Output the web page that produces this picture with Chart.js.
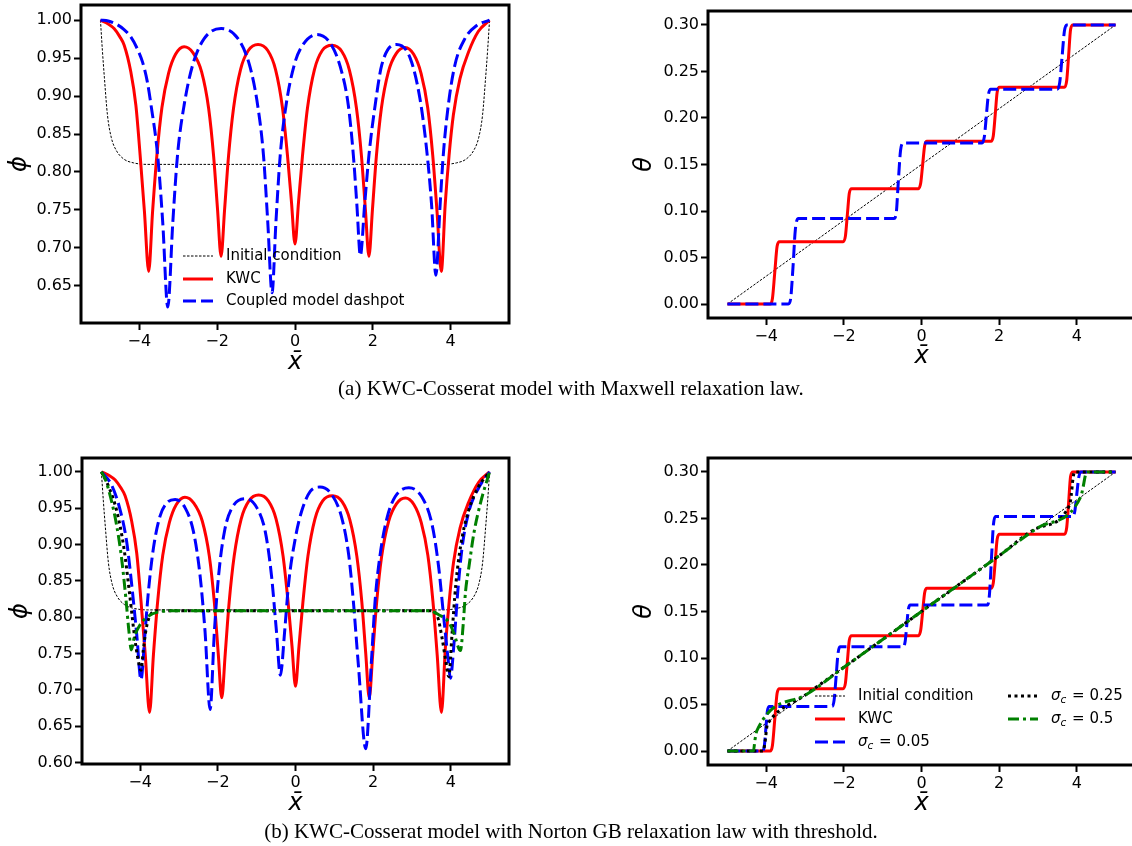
<!DOCTYPE html>
<html><head><meta charset="utf-8">
<script src="https://cdn.jsdelivr.net/npm/chart.js@4.4.1/dist/chart.umd.min.js"></script>
<style>
html,body{margin:0;padding:0;background:#fff;overflow:hidden;width:1132px;height:846px;position:relative;}
canvas{position:absolute;}
.cap{position:absolute;left:0;width:1142px;text-align:center;font-family:'Liberation Serif','Times New Roman',serif;font-size:21px;line-height:22px;color:#000;}
</style></head><body>
<canvas id="cA" width="540" height="380" style="left:0;top:0"></canvas>
<canvas id="cB" width="520" height="380" style="left:620px;top:0"></canvas>
<canvas id="cC" width="540" height="380" style="left:0;top:440px"></canvas>
<canvas id="cD" width="520" height="380" style="left:620px;top:440px"></canvas>
<div class="cap" style="top:377px">(a) KWC-Cosserat model with Maxwell relaxation law.</div>
<div class="cap" style="top:820px">(b) KWC-Cosserat model with Norton GB relaxation law with threshold.</div>
<script>
// ---------- tick labels ----------
const xTicks = [-4, -2, 0, 2, 4];
const phiTicksA = [0.65, 0.70, 0.75, 0.80, 0.85, 0.90, 0.95, 1.00];
const phiTicksC = [0.60, 0.65, 0.70, 0.75, 0.80, 0.85, 0.90, 0.95, 1.00];
const thetaTicks = [0.00, 0.05, 0.10, 0.15, 0.20, 0.25, 0.30];

// ---------- phi: initial condition ----------
const initPhiX = [-5.00,-4.95,-4.90,-4.82,-4.72,-4.60,-4.40,-4.15,-3.80,3.80,4.15,4.40,4.60,4.72,4.82,4.90,4.95,5.00];
const initPhiY = [1.000,0.960,0.925,0.875,0.845,0.829,0.817,0.812,0.810,0.810,0.812,0.817,0.829,0.845,0.875,0.925,0.960,1.000];

// ---------- phi: KWC ----------
const kwcPhiX = [-5.00,-4.80,-4.65,-4.50,-4.39,-4.22,-4.09,-3.98,-3.87,-3.76,-3.66,-3.55,-3.42,-3.25,-3.07,-2.85,-2.62,-2.40,-2.22,-2.09,-1.99,-1.90,-1.81,-1.71,-1.58,-1.40,-1.20,-0.95,-0.70,-0.50,-0.32,-0.19,-0.09,0.00,0.09,0.19,0.32,0.50,0.70,0.95,1.20,1.40,1.58,1.71,1.81,1.90,1.99,2.09,2.22,2.40,2.60,2.83,3.05,3.24,3.41,3.54,3.65,3.76,3.86,3.96,4.07,4.24,4.46,4.71,5.00];
const kwcPhiY = [1.000,0.995,0.989,0.978,0.967,0.932,0.888,0.822,0.748,0.669,0.748,0.822,0.885,0.930,0.955,0.965,0.957,0.932,0.884,0.820,0.750,0.689,0.750,0.820,0.884,0.935,0.960,0.968,0.960,0.935,0.884,0.820,0.760,0.705,0.760,0.820,0.884,0.935,0.960,0.967,0.959,0.934,0.884,0.820,0.750,0.689,0.750,0.820,0.884,0.932,0.956,0.964,0.955,0.930,0.885,0.822,0.748,0.669,0.757,0.822,0.875,0.923,0.958,0.985,1.000];

// ---------- phi: coupled model dashpot ----------
const dashPhiX = [-5.00,-4.80,-4.60,-4.40,-4.22,-4.05,-3.92,-3.80,-3.70,-3.53,-3.40,-3.27,-3.14,-3.02,-2.85,-2.63,-2.33,-1.90,-1.47,-1.17,-0.96,-0.81,-0.70,-0.59,-0.49,-0.38,-0.23,-0.02,0.17,0.56,0.94,1.20,1.37,1.50,1.59,1.68,1.79,1.90,2.06,2.23,2.61,2.96,3.21,3.38,3.51,3.62,3.73,3.81,3.94,4.11,4.37,4.67,5.00];
const dashPhiY = [1.000,0.999,0.995,0.988,0.978,0.962,0.945,0.920,0.888,0.822,0.734,0.622,0.734,0.822,0.888,0.941,0.976,0.989,0.976,0.941,0.888,0.822,0.734,0.641,0.734,0.822,0.888,0.941,0.965,0.981,0.967,0.932,0.888,0.822,0.757,0.690,0.757,0.822,0.888,0.941,0.968,0.950,0.897,0.831,0.757,0.664,0.757,0.822,0.888,0.941,0.976,0.993,1.000];

// ---------- phi: sigma_c = 0.05 ----------
const s005PhiX = [-5.00,-4.74,-4.53,-4.35,-4.22,-4.09,-3.98,-3.88,-3.79,-3.66,-3.49,-3.32,-3.10,-2.84,-2.63,-2.46,-2.33,-2.20,-2.09,-1.98,-1.83,-1.64,-1.29,-0.99,-0.78,-0.62,-0.49,-0.39,-0.28,-0.18,0.00,0.16,0.38,0.63,0.93,1.19,1.37,1.49,1.62,1.81,1.95,2.05,2.18,2.36,2.57,2.92,3.26,3.52,3.69,3.82,3.93,3.99,4.08,4.18,4.29,4.47,4.72,5.00];
const s005PhiY = [1.000,0.982,0.950,0.904,0.845,0.776,0.714,0.776,0.835,0.895,0.939,0.957,0.962,0.950,0.918,0.858,0.780,0.673,0.780,0.858,0.918,0.950,0.963,0.950,0.918,0.858,0.780,0.720,0.780,0.845,0.910,0.946,0.973,0.979,0.969,0.937,0.886,0.822,0.734,0.619,0.734,0.822,0.886,0.937,0.966,0.978,0.965,0.927,0.868,0.799,0.743,0.716,0.762,0.835,0.895,0.946,0.978,1.000];

// ---------- phi: sigma_c = 0.25 ----------
const s025PhiX = [-5.00,-4.80,-4.60,-4.42,-4.28,-4.15,-4.05,-3.98,-3.92,-3.85,-3.75,-3.55,3.48,3.65,3.78,3.87,3.95,4.03,4.13,4.26,4.45,4.70,5.00];
const s025PhiY = [1.000,0.978,0.945,0.895,0.835,0.775,0.740,0.727,0.755,0.783,0.802,0.809,0.809,0.802,0.770,0.740,0.718,0.775,0.845,0.900,0.945,0.978,1.000];

// ---------- phi: sigma_c = 0.5 ----------
const s05PhiX = [-5.00,-4.90,-4.74,-4.61,-4.48,-4.37,-4.29,-4.23,-4.15,-4.00,-3.85,-3.55,-3.10,3.43,3.70,3.95,4.08,4.25,4.32,4.38,4.47,4.60,4.77,5.00];
const s05PhiY = [1.000,0.990,0.960,0.927,0.881,0.826,0.780,0.755,0.773,0.790,0.799,0.807,0.809,0.809,0.803,0.793,0.778,0.754,0.790,0.835,0.870,0.917,0.958,1.000];

// ---------- theta ----------
const initThX = [-5.0, 5.0];
const initThY = [0.0, 0.3];
const kwcThX = [-5.00,-3.90,-3.84,-3.78,-3.72,-3.66,-2.02,-1.96,-1.91,-1.86,-1.80,-0.08,-0.02,0.03,0.08,0.14,1.79,1.85,1.90,1.95,2.01,3.68,3.74,3.79,3.84,3.90,5.00];
const kwcThY = [0.000,0.000,0.006,0.034,0.062,0.067,0.067,0.073,0.096,0.119,0.124,0.124,0.130,0.150,0.170,0.175,0.175,0.181,0.204,0.228,0.233,0.233,0.240,0.267,0.295,0.300,0.300];
const dashThX = [-5.00,-3.43,-3.37,-3.31,-3.25,-3.17,-0.71,-0.65,-0.60,-0.54,-0.47,1.56,1.62,1.67,1.72,1.78,3.50,3.56,3.62,3.68,3.74,5.00];
const dashThY = [0.000,0.000,0.006,0.040,0.080,0.092,0.092,0.098,0.130,0.165,0.173,0.173,0.180,0.202,0.224,0.231,0.231,0.238,0.265,0.293,0.300,0.300];
const s005ThX = [-5.00,-4.10,-4.05,-4.01,-3.97,-3.92,-2.30,-2.25,-2.20,-2.15,-2.10,-0.47,-0.42,-0.38,-0.34,-0.29,1.70,1.75,1.80,1.85,1.90,3.90,3.95,4.00,4.05,4.10,5.00];
const s005ThY = [0.000,0.000,0.005,0.024,0.043,0.048,0.048,0.055,0.080,0.105,0.112,0.112,0.118,0.135,0.152,0.157,0.157,0.168,0.205,0.242,0.252,0.252,0.258,0.276,0.294,0.300,0.300];
const s025ThX = [-5.00,-4.08,-4.03,-3.98,-3.92,-3.00,-2.00,-1.00,0.00,1.00,2.00,3.00,3.82,3.86,3.90,3.94,5.00];
const s025ThY = [0.000,0.000,0.010,0.027,0.032,0.060,0.090,0.120,0.150,0.180,0.210,0.240,0.265,0.276,0.292,0.300,0.300];
const s05ThX = [-5.00,-4.33,-4.29,-4.24,-3.00,-2.00,-1.00,0.00,1.00,2.00,3.00,4.10,4.16,4.22,4.26,5.00];
const s05ThY = [0.000,0.000,0.012,0.022,0.060,0.090,0.120,0.150,0.180,0.210,0.240,0.273,0.283,0.296,0.300,0.300];

// ---------- helpers ----------
const pts = (xs, ys) => xs.map((x, i) => ({x: x, y: ys[i]}));
const STY = {
  init:    {borderColor:'#000000', borderWidth:1, borderDash:[2.5,1.5]},
  kwc:     {borderColor:'#ff0000', borderWidth:3, borderDash:[]},
  blue:    {borderColor:'#0000ff', borderWidth:3, borderDash:[13,5]},
  dot:     {borderColor:'#000000', borderWidth:3, borderDash:[3,3.5]},
  dashdot: {borderColor:'#008000', borderWidth:3, borderDash:[11,4,3,4]}
};
function ds(label, xs, ys, style, order) {
  return Object.assign({label: label, data: pts(xs, ys), pointRadius: 0, fill: false,
    cubicInterpolationMode: 'monotone', order: order}, STY[style]);
}
const fmtX = v => (v < 0 ? '\u2212' + Math.abs(v) : String(v));
const fmtY = v => Number(v).toFixed(2);
const FONT = '"DejaVu Sans"';

function drawLabel(ctx, text, x, y) {
  ctx.textBaseline = 'middle'; ctx.textAlign = 'left'; ctx.fillStyle = '#000';
  const i = text.indexOf('_c');
  if (i < 0) { ctx.font = '15px ' + FONT; ctx.fillText(text, x, y); return; }
  const head = text.slice(0, i), tail = text.slice(i + 2);
  ctx.font = 'italic 15px ' + FONT; ctx.fillText(head, x, y); x += ctx.measureText(head).width;
  ctx.font = 'italic 10.5px ' + FONT; ctx.fillText('c', x, y + 4); x += ctx.measureText('c').width + 1;
  ctx.font = '15px ' + FONT; ctx.fillText(tail, x, y);
}

const framePlugin = {
  id: 'frameLegend',
  afterDatasetsDraw(chart) {
    const {ctx, chartArea: a} = chart;
    ctx.save();
    ctx.strokeStyle = '#000'; ctx.lineWidth = 3;
    ctx.strokeRect(a.left, a.top, a.right - a.left, a.bottom - a.top);
    ctx.restore();
  },
  afterDraw(chart, args, opts) {
    if (!opts || !opts.items) return;
    const ctx = chart.ctx;
    ctx.save();
    opts.items.forEach(it => {
      const d = chart.data.datasets[it.ds];
      ctx.beginPath();
      ctx.strokeStyle = d.borderColor; ctx.lineWidth = d.borderWidth;
      ctx.setLineDash(d.borderDash || []); ctx.lineCap = 'butt';
      ctx.moveTo(it.x, it.y); ctx.lineTo(it.x + 30, it.y); ctx.stroke();
      ctx.setLineDash([]);
      drawLabel(ctx, d.label, it.x + 43, it.y);
    });
    ctx.restore();
  }
};

function makeChart(id, cfg, datasets, legendItems) {
  const zeroPad = s => { s.paddingLeft = 0; s.paddingRight = 0; s.paddingTop = 0; s.paddingBottom = 0; };
  const grid = {display: true, drawOnChartArea: false, drawTicks: true, tickLength: 7, tickWidth: 2, tickColor: '#000'};
  return new Chart(document.getElementById(id), {
    type: 'line',
    data: {datasets: datasets},
    plugins: [framePlugin],
    options: {
      responsive: false, animation: false, devicePixelRatio: 1,
      layout: {padding: {left: 0, top: cfg.pt, right: cfg.pr, bottom: 0}},
      plugins: {legend: {display: false}, tooltip: {enabled: false}, frameLegend: {items: legendItems}},
      scales: {
        x: {type: 'linear', min: -5.5, max: 5.5,
          afterBuildTicks: s => { s.ticks = xTicks.map(v => ({value: v})); },
          afterFit: s => { s.height = cfg.xh; zeroPad(s); },
          grid: grid, border: {display: false},
          ticks: {font: {family: 'DejaVu Sans', size: 16}, color: '#000', padding: 2, maxRotation: 0, autoSkip: false, callback: v => fmtX(v)},
          title: {display: true, text: 'x\u0304', color: '#000', font: {family: 'DejaVu Sans', size: 24, style: 'italic'}, padding: {top: 0, bottom: cfg.xtp}}
        },
        y: {type: 'linear', min: cfg.ymin, max: cfg.ymax,
          afterBuildTicks: s => { s.ticks = cfg.yticks.map(v => ({value: v})); },
          afterFit: s => { s.width = cfg.yw; zeroPad(s); },
          grid: grid, border: {display: false},
          ticks: {font: {family: 'DejaVu Sans', size: 16}, color: '#000', padding: 2, autoSkip: false, callback: v => fmtY(v)},
          title: {display: true, text: cfg.ytitle, color: '#000', font: {family: 'DejaVu Sans', size: 24, style: 'italic'}, padding: {top: cfg.ytp, bottom: 0}}
        }
      }
    }
  });
}

// (a) left: phi
makeChart('cA', {pt: 5, pr: 31, yw: 81, xh: 57, ytp: 5.6, xtp: 2.9, ymin: 0.601, ymax: 1.020, yticks: phiTicksA, ytitle: '\u03D5'}, [
  ds('Initial condition', initPhiX, initPhiY, 'init', 3),
  ds('KWC', kwcPhiX, kwcPhiY, 'kwc', 2),
  ds('Coupled model dashpot', dashPhiX, dashPhiY, 'blue', 1)
], [{ds: 0, x: 183, y: 256}, {ds: 1, x: 183, y: 279}, {ds: 2, x: 183, y: 301}]);

// (a) right: theta
makeChart('cB', {pt: 11, pr: 5, yw: 88, xh: 62, ytp: 10.6, xtp: 8.9, ymin: -0.015, ymax: 0.315, yticks: thetaTicks, ytitle: '\u03B8'}, [
  ds('Initial condition', initThX, initThY, 'init', 3),
  ds('KWC', kwcThX, kwcThY, 'kwc', 2),
  ds('Coupled model dashpot', dashThX, dashThY, 'blue', 1)
], []);

// (b) left: phi
makeChart('cC', {pt: 18, pr: 31, yw: 82, xh: 56, ytp: 6.3, xtp: 2.2, ymin: 0.598, ymax: 1.019, yticks: phiTicksC, ytitle: '\u03D5'}, [
  ds('Initial condition', initPhiX, initPhiY, 'init', 5),
  ds('KWC', kwcPhiX, kwcPhiY, 'kwc', 4),
  ds('\u03C3_c = 0.05', s005PhiX, s005PhiY, 'blue', 3),
  ds('\u03C3_c = 0.25', s025PhiX, s025PhiY, 'dot', 2),
  ds('\u03C3_c = 0.5', s05PhiX, s05PhiY, 'dashdot', 1)
], []);

// (b) right: theta
makeChart('cD', {pt: 18, pr: 5, yw: 88, xh: 55, ytp: 10.6, xtp: 2.2, ymin: -0.015, ymax: 0.315, yticks: thetaTicks, ytitle: '\u03B8'}, [
  ds('Initial condition', initThX, initThY, 'init', 5),
  ds('KWC', kwcThX, kwcThY, 'kwc', 4),
  ds('\u03C3_c = 0.05', s005ThX, s005ThY, 'blue', 3),
  ds('\u03C3_c = 0.25', s025ThX, s025ThY, 'dot', 2),
  ds('\u03C3_c = 0.5', s05ThX, s05ThY, 'dashdot', 1)
], [{ds: 0, x: 195, y: 256}, {ds: 1, x: 195, y: 279}, {ds: 2, x: 195, y: 302}, {ds: 3, x: 388, y: 256}, {ds: 4, x: 388, y: 279}]);
</script>
</body></html>
